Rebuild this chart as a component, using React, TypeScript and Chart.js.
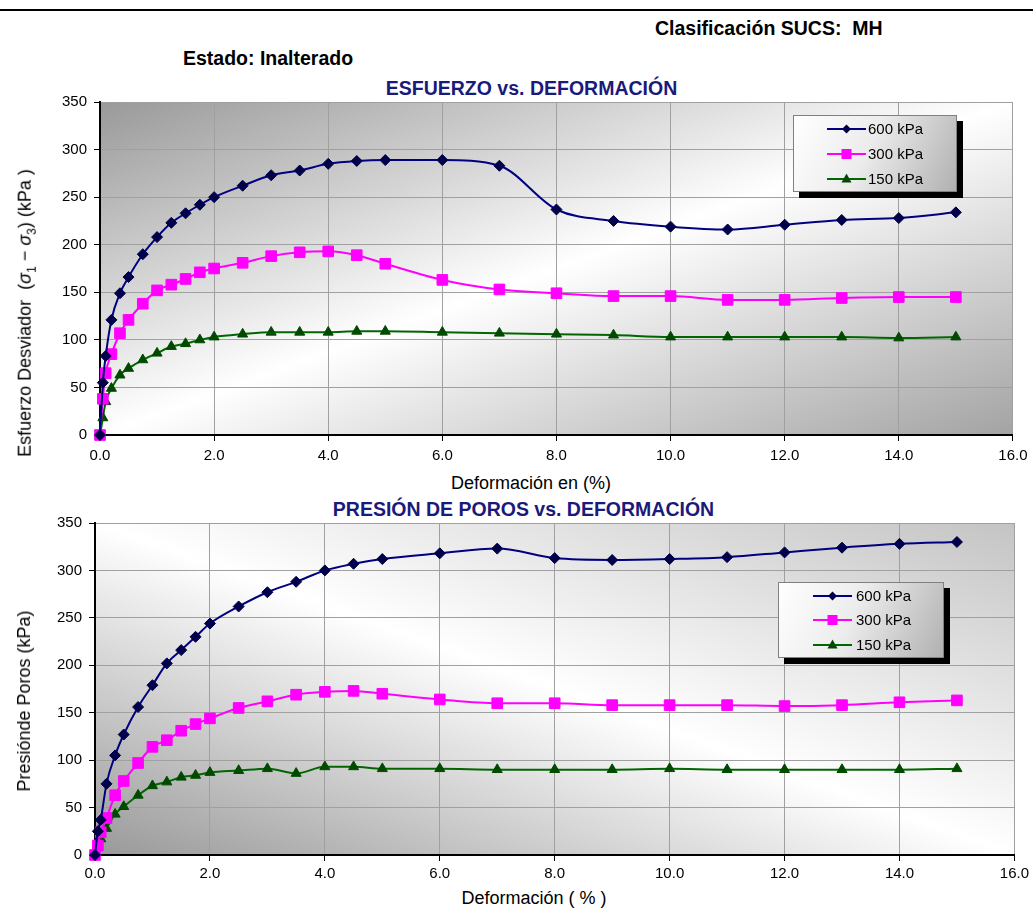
import React, { useEffect, useRef } from 'react';
import { Chart, registerables } from 'chart.js';

Chart.register(...registerables);

const FONT = "'Liberation Sans', Arial, Helvetica, sans-serif";

// Deformación (%)
const deformacion = [0, 0.05, 0.1, 0.2, 0.35, 0.5, 0.75, 1.0, 1.25, 1.5, 1.75, 2.0, 2.5, 3.0, 3.5, 4.0, 4.5, 5.0, 6.0, 7.0, 8.0, 9.0, 10.0, 11.0, 12.0, 13.0, 14.0, 15.0];

// Esfuerzo desviador (kPa)
const esfuerzo600 = [0, 55, 83, 121, 149, 166, 190, 208, 223, 233, 242, 250, 262, 273, 278, 285, 288, 289, 289, 283, 237, 225, 219, 216, 221, 226, 228, 234];
const esfuerzo300 = [0, 38, 65, 85, 107, 121, 138, 152, 158, 164, 171, 175, 181, 188, 192, 193, 189, 180, 163, 153, 149, 146, 146, 142, 142, 144, 145, 145];
const esfuerzo150 = [0, 18, 35, 49, 63, 70, 79, 86, 93, 96, 100, 103, 106, 108, 108, 108, 109, 109, 108, 107, 106, 105, 103, 103, 103, 103, 102, 103];

// Presión de poros (kPa)
const poros600 = [0, 25, 37, 75, 105, 127, 156, 179, 202, 216, 230, 244, 262, 277, 288, 300, 307, 312, 318, 323, 313, 311, 312, 314, 319, 324, 328, 330];
const poros300 = [0, 10, 24, 39, 63, 78, 97, 114, 121, 131, 138, 144, 155, 162, 169, 172, 173, 170, 164, 160, 160, 158, 158, 158, 157, 158, 161, 163];
const poros150 = [0, 8, 17, 28, 43, 51, 63, 73, 77, 82, 84, 87, 89, 91, 86, 93, 93, 91, 91, 90, 90, 90, 91, 90, 90, 90, 90, 91];

const seriesLabels = ['600 kPa', '300 kPa', '150 kPa'];

const seriesStyles = [
  { line: '#000080', fill: '#00004a', pointStyle: 'rectRot', radius: 5.5, marker: 'diamond' },
  { line: '#ff00ff', fill: '#ff00ff', pointStyle: 'rect', radius: 7.5, marker: 'square' },
  { line: '#006600', fill: '#004a00', pointStyle: 'triangle', radius: 5.8, marker: 'triangle' },
];

type Cfg = {
  series: number[][];
  yWidth: number;
  xPad: number;
  dir: 'down' | 'up';
  stops: [number, string][];
  legend: { dx: number; dy: number; w: number; h: number; lineX: number; textX: number; rows: number[] };
};

function drawMarker(ctx: CanvasRenderingContext2D, kind: string, x: number, y: number, color: string) {
  ctx.fillStyle = color;
  ctx.beginPath();
  if (kind === 'diamond') {
    const r = 4.5;
    ctx.moveTo(x - r, y); ctx.lineTo(x, y - r); ctx.lineTo(x + r, y); ctx.lineTo(x, y + r);
  } else if (kind === 'square') {
    const s = 5;
    ctx.rect(x - s, y - s, 2 * s, 2 * s);
  } else {
    ctx.moveTo(x, y - 5.5); ctx.lineTo(x + 5, y + 3.5); ctx.lineTo(x - 5, y + 3.5);
  }
  ctx.closePath();
  ctx.fill();
}

function makeDecor(cfg: Cfg) {
  return {
    id: 'decor',
    beforeDraw(chart: any) {
      const { ctx, chartArea: a } = chart;
      const W = a.right - a.left;
      const H = a.bottom - a.top;
      const k = (2 * W * H) / (W * W + H * H);
      const g = cfg.dir === 'down'
        ? ctx.createLinearGradient(a.left, a.top, a.left + k * H, a.top + k * W)
        : ctx.createLinearGradient(a.left, a.bottom, a.left + k * H, a.bottom - k * W);
      cfg.stops.forEach(([o, c]) => g.addColorStop(o, c));
      ctx.save();
      ctx.fillStyle = g;
      ctx.fillRect(a.left, a.top, W, H);
      ctx.restore();
    },
    afterDraw(chart: any) {
      const { ctx, chartArea: a } = chart;
      const L = cfg.legend;
      const x = a.left + L.dx;
      const y = a.top + L.dy;
      ctx.save();
      ctx.fillStyle = '#000';
      ctx.fillRect(x + 6, y + 6, L.w, L.h);
      const g = ctx.createLinearGradient(x, y, x + L.w, y + L.h);
      g.addColorStop(0, '#ffffff');
      g.addColorStop(0.45, '#ececec');
      g.addColorStop(1, '#b0b0b0');
      ctx.fillStyle = g;
      ctx.fillRect(x, y, L.w, L.h);
      ctx.strokeStyle = '#808080';
      ctx.lineWidth = 1;
      ctx.strokeRect(x + 0.5, y + 0.5, L.w - 1, L.h - 1);
      chart.data.datasets.forEach((ds: any, i: number) => {
        const st = seriesStyles[i];
        const ry = y + L.rows[i];
        const lx = x + L.lineX;
        ctx.strokeStyle = st.line;
        ctx.lineWidth = 2;
        ctx.beginPath();
        ctx.moveTo(lx, ry);
        ctx.lineTo(lx + 39, ry);
        ctx.stroke();
        drawMarker(ctx, st.marker, lx + 19.5, ry, st.fill);
        ctx.fillStyle = '#000';
        ctx.font = `15px ${FONT}`;
        ctx.textBaseline = 'middle';
        ctx.textAlign = 'left';
        ctx.fillText(ds.label, x + L.textX, ry + 1);
      });
      ctx.restore();
    },
  };
}

function makeChart(canvas: HTMLCanvasElement, cfg: Cfg) {
  const tickFont = { family: FONT, size: 15 };
  const grid = { color: '#a0a0a0', lineWidth: 1, tickLength: 6, tickColor: '#000' };
  return new Chart(canvas, {
    type: 'line',
    data: {
      datasets: cfg.series.map((vals, i) => {
        const st = seriesStyles[i];
        return {
          label: seriesLabels[i],
          data: deformacion.map((x, j) => ({ x, y: vals[j] })),
          borderColor: st.line,
          backgroundColor: st.fill,
          pointBackgroundColor: st.fill,
          pointBorderColor: st.fill,
          pointStyle: st.pointStyle as any,
          pointRadius: st.radius,
          pointBorderWidth: 1,
          borderWidth: 2,
          cubicInterpolationMode: 'monotone' as const,
          clip: false as any,
          fill: false,
        };
      }),
    },
    options: {
      responsive: false,
      animation: false,
      events: [],
      layout: { padding: { top: 16, right: 17, left: 0, bottom: 0 } },
      plugins: { legend: { display: false }, tooltip: { enabled: false }, title: { display: false } },
      scales: {
        x: {
          type: 'linear',
          min: 0,
          max: 16,
          afterFit: (s: any) => { s.height = 30; },
          ticks: { stepSize: 2, callback: (v: any) => Number(v).toFixed(1), font: tickFont, color: '#000', padding: cfg.xPad, maxRotation: 0, autoSkip: false },
          grid,
          border: { color: '#000', width: 2 },
        },
        y: {
          type: 'linear',
          min: 0,
          max: 350,
          afterFit: (s: any) => { s.width = cfg.yWidth; },
          ticks: { stepSize: 50, font: tickFont, color: '#000', padding: 7 },
          grid,
          border: { color: '#000', width: 2 },
        },
      },
    } as any,
    plugins: [makeDecor(cfg) as any],
  });
}

const abs = (s: React.CSSProperties): React.CSSProperties => ({
  position: 'absolute',
  fontFamily: FONT,
  whiteSpace: 'pre',
  margin: 0,
  color: '#000',
  ...s,
});

const centered = (x: number, y: number, extra: React.CSSProperties = {}): React.CSSProperties =>
  abs({ left: x, top: y, transform: 'translate(-50%, -50%)', ...extra });

export default function App() {
  const topRef = useRef<HTMLCanvasElement>(null);
  const botRef = useRef<HTMLCanvasElement>(null);

  useEffect(() => {
    const c1 = makeChart(topRef.current!, {
      series: [esfuerzo600, esfuerzo300, esfuerzo150],
      yWidth: 100,
      xPad: 5.5,
      dir: 'down',
      stops: [[0, '#999999'], [0.5, '#ffffff'], [1, '#a3a3a3']],
      legend: { dx: 693, dy: 13, w: 164, h: 77, lineX: 34, textX: 75, rows: [14, 39, 64] },
    });
    const c2 = makeChart(botRef.current!, {
      series: [poros600, poros300, poros150],
      yWidth: 95,
      xPad: 4,
      dir: 'up',
      stops: [[0, '#999999'], [0.5, '#ffffff'], [1, '#c4c4c4']],
      legend: { dx: 683, dy: 59, w: 166, h: 76, lineX: 35, textX: 78, rows: [14, 38, 63] },
    });
    return () => { c1.destroy(); c2.destroy(); };
  }, []);

  const bold = { fontWeight: 700, fontSize: 19.5, lineHeight: '24px' } as React.CSSProperties;
  const axisTitle = { fontSize: 18, lineHeight: '22px' } as React.CSSProperties;
  const navy = '#1a1a7a';

  return (
    <div style={{ position: 'absolute', left: 0, top: 0, width: 1033, height: 909, background: '#fff', overflow: 'hidden' }}>
      <div style={abs({ left: 0, top: 9, width: 1033, height: 2, background: '#000' })} />
      <div style={abs({ left: 655, top: 16, ...bold })}>{'Clasificación SUCS:  MH'}</div>
      <div style={abs({ left: 183, top: 46, ...bold })}>{'Estado: Inalterado'}</div>
      <div style={centered(531.5, 88, { ...bold, color: navy })}>{'ESFUERZO vs. DEFORMACIÓN'}</div>

      <canvas ref={topRef} width={1033} height={379} style={{ position: 'absolute', left: 0, top: 86 }} />

      <div style={centered(28, 313, { ...axisTitle, transform: 'translate(-50%, -50%) rotate(-90deg)' })}>
        {'Esfuerzo Desviador  ('}<i>σ</i><sub style={{ fontSize: 12 }}>1</sub>{' − '}<i>σ</i><sub style={{ fontSize: 12 }}>3</sub>{') (kPa )'}
      </div>
      <div style={centered(531, 483, axisTitle)}>{'Deformación en (%)'}</div>

      <div style={centered(523.5, 509, { ...bold, color: navy })}>{'PRESIÓN DE POROS vs. DEFORMACIÓN'}</div>

      <canvas ref={botRef} width={1033} height={378} style={{ position: 'absolute', left: 0, top: 507 }} />

      <div style={centered(23.5, 701, { ...axisTitle, transform: 'translate(-50%, -50%) rotate(-90deg)' })}>
        {'Presiónde Poros (kPa)'}
      </div>
      <div style={centered(534, 898, axisTitle)}>{'Deformación ( % )'}</div>
    </div>
  );
}
